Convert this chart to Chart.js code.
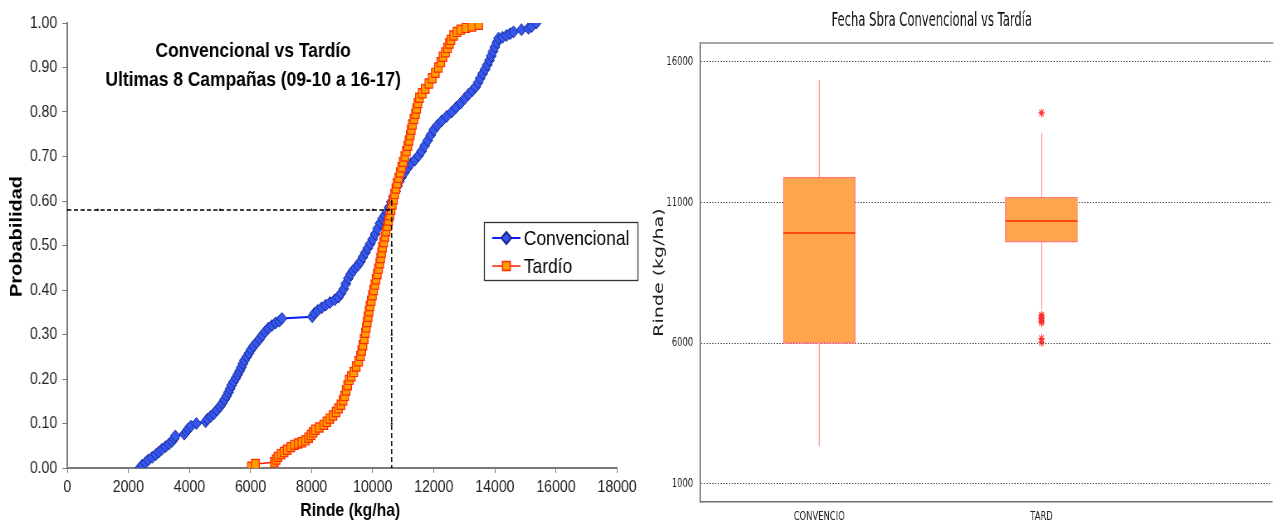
<!DOCTYPE html>
<html><head><meta charset="utf-8">
<script src="https://cdn.jsdelivr.net/npm/chart.js@4/dist/chart.umd.min.js"></script>
<style>
html,body{margin:0;padding:0;background:#fff;width:1276px;height:523px;overflow:hidden;position:relative}
canvas{position:absolute;top:0}
</style></head><body>
<canvas id="c1" width="771" height="523" style="left:0;width:640px;height:523px"></canvas>
<canvas id="c2" width="909" height="523" style="left:640px;width:636px;height:523px"></canvas>
<script>
// ---------- LEFT CHART DATA (cumulative probability vs yield) ----------
const leftTitle = ['Convencional vs Tardío', 'Ultimas 8 Campañas (09-10 a 16-17)'];
const leftXTitle = 'Rinde (kg/ha)';
const leftYTitle = 'Probabilidad';
const seriesNames = ['Convencional', 'Tardío'];
const rindeTicks = [0, 2000, 4000, 6000, 8000, 10000, 12000, 14000, 16000, 18000];
const probTicks = [0, 0.1, 0.2, 0.3, 0.4, 0.5, 0.6, 0.7, 0.8, 0.9, 1.0];

const convRinde = [2380,2450,2560,2650,2780,2900,3000,3100,3220,3330,3430,3500,3540,3830,3900,3960,4050,4230,4530,4590,4700,4800,4900,5000,5080,5150,5220,5280,5330,5380,5450,5520,5580,5640,5700,5750,5800,5880,5950,6020,6100,6200,6300,6380,6480,6580,6700,6820,6940,7030,8020,8100,8200,8330,8460,8600,8760,8880,8960,9050,9120,9200,9280,9360,9440,9520,9600,9680,9760,9840,9920,10000,10080,10160,10240,10320,10400,10470,10540,10610,10680,10750,10810,10870,10950,11040,11140,11250,11380,11500,11600,11700,11800,11900,12000,12120,12260,12420,12590,12730,12880,13010,13140,13260,13370,13450,13520,13600,13680,13750,13820,13880,13940,14000,14060,14120,14250,14380,14500,14610,14870,15100,15200,15360];
const convProb = [0.000,0.006,0.012,0.018,0.024,0.030,0.036,0.042,0.048,0.054,0.060,0.066,0.072,0.076,0.082,0.088,0.094,0.100,0.104,0.110,0.116,0.122,0.130,0.138,0.146,0.154,0.162,0.170,0.178,0.186,0.194,0.202,0.210,0.218,0.226,0.234,0.242,0.250,0.258,0.266,0.274,0.282,0.290,0.298,0.306,0.314,0.320,0.326,0.330,0.336,0.340,0.348,0.354,0.360,0.366,0.372,0.378,0.384,0.392,0.402,0.414,0.426,0.436,0.444,0.450,0.456,0.464,0.474,0.484,0.494,0.504,0.514,0.526,0.538,0.550,0.560,0.568,0.576,0.586,0.598,0.610,0.622,0.634,0.644,0.654,0.664,0.674,0.684,0.692,0.702,0.712,0.724,0.736,0.748,0.760,0.770,0.780,0.790,0.800,0.810,0.820,0.830,0.840,0.848,0.856,0.866,0.876,0.886,0.896,0.906,0.916,0.926,0.936,0.946,0.956,0.966,0.968,0.972,0.976,0.980,0.985,0.988,0.992,1.000];

const tardRinde = [6030,6160,6780,6840,6900,7000,7100,7200,7320,7440,7560,7680,7800,7900,7980,8050,8120,8250,8400,8500,8600,8700,8800,8880,8960,9030,9080,9130,9180,9230,9300,9380,9460,9540,9600,9640,9680,9720,9760,9790,9820,9850,9880,9910,9950,9990,10030,10070,10110,10150,10190,10230,10260,10290,10320,10360,10400,10440,10480,10520,10560,10600,10640,10680,10720,10760,10800,10850,10900,10950,11000,11050,11100,11150,11190,11230,11260,11300,11350,11400,11440,11480,11530,11620,11720,11840,11950,12050,12150,12230,12300,12380,12450,12510,12560,12650,12760,12880,13050,13250,13470];
const tardProb = [0.003,0.009,0.013,0.019,0.025,0.031,0.036,0.041,0.047,0.052,0.055,0.058,0.062,0.068,0.074,0.080,0.086,0.091,0.097,0.104,0.111,0.118,0.126,0.134,0.142,0.152,0.162,0.174,0.186,0.198,0.206,0.216,0.228,0.240,0.252,0.264,0.276,0.290,0.304,0.316,0.328,0.340,0.352,0.364,0.376,0.388,0.400,0.412,0.424,0.436,0.448,0.460,0.472,0.484,0.496,0.508,0.520,0.532,0.544,0.556,0.568,0.580,0.592,0.604,0.616,0.628,0.640,0.652,0.664,0.676,0.688,0.700,0.712,0.724,0.736,0.748,0.760,0.772,0.784,0.796,0.808,0.820,0.832,0.842,0.852,0.864,0.876,0.888,0.900,0.912,0.924,0.934,0.944,0.954,0.962,0.972,0.980,0.985,0.989,0.992,0.996];

const guideHRinde = [0, 1000, 3000, 5000, 8000, 10000, 10530];
const guideHProb = [0.58, 0.58, 0.58, 0.58, 0.58, 0.58, 0.58];
const guideVRinde = [10620, 10620, 10620, 10620, 10620, 10620, 10620];
const guideVProb = [0.60, 0.50, 0.40, 0.30, 0.20, 0.10, 0.00];

// ---------- RIGHT CHART DATA (box plot) ----------
const boxTitle = 'Fecha Sbra Convencional vs Tardía';
const boxYTitle = 'Rinde (kg/ha)';
const boxCategories = ['CONVENCIO', 'TARD'];
const boxMin = [2340, 7210];
const boxQ1 = [6000, 9600];
const boxMedian = [9920, 10350];
const boxQ3 = [11910, 11200];
const boxMax = [15360, 13480];
const boxTicks = [1000, 6000, 11000, 16000];
const outlierCategory = [2, 2, 2, 2, 2, 2, 2, 2];
const outlierRinde = [14190, 7000, 6930, 6870, 6800, 6740, 6170, 6030];

// ---------- helpers ----------
const FL = '"Liberation Sans", Arial, Helvetica, sans-serif';
const FR = '"DejaVu Sans", Verdana, sans-serif';
const pts = (xs, ys) => xs.map((x, i) => ({x: x, y: ys[i]}));

const SER_STYLE = [
  {line: '#0a1cff', fill: '#3557ee', border: '#1b2a96', style: 'rectRot', r: 6, bw: 1},
  {line: '#ff1a00', fill: '#ff9c00', border: '#ff2a00', style: 'rect', r: 6.5, bw: 1.2}
];

const leftDecor = {
  id: 'leftDecor',
  afterDraw(chart) {
    const ctx = chart.ctx;
    ctx.save();
    ctx.fillStyle = '#000';
    ctx.textAlign = 'center';
    ctx.textBaseline = 'middle';
    ctx.font = 'bold 21px ' + FL;
    ctx.fillText(leftTitle[0], 305, 51);
    ctx.fillText(leftTitle[1], 305, 80);
    // axis titles
    ctx.font = 'bold 19px ' + FL;
    ctx.fillText(leftXTitle, 422, 511);
    ctx.save();
    ctx.translate(20.5, 236.5);
    ctx.rotate(-Math.PI / 2);
    ctx.font = 'bold 20px ' + FL;
    ctx.fillText(leftYTitle, 0, 0);
    ctx.restore();
    // legend
    ctx.fillStyle = '#fff';
    ctx.fillRect(583, 222, 186, 59);
    ctx.strokeStyle = '#333';
    ctx.lineWidth = 1.3;
    ctx.strokeRect(583.5, 222.5, 185, 58);
    const rows = [238, 266];
    seriesNames.forEach((name, i) => {
      const st = SER_STYLE[i];
      const y = rows[i];
      ctx.strokeStyle = st.line;
      ctx.lineWidth = i === 0 ? 2 : 1.5;
      ctx.beginPath(); ctx.moveTo(593, y); ctx.lineTo(627, y); ctx.stroke();
      ctx.fillStyle = st.fill; ctx.strokeStyle = st.border;
      Chart.helpers.drawPoint(ctx, {pointStyle: st.style, radius: st.r, rotation: 0, borderWidth: st.bw}, 610, y);
      ctx.fillStyle = '#000';
      ctx.textAlign = 'left';
      ctx.font = '21px ' + FL;
      ctx.fillText(name, 631, y + 1);
    });
    ctx.restore();
  }
};

new Chart(document.getElementById('c1'), {
  type: 'scatter',
  data: {
    datasets: [
      {label: 'guideH', data: pts(guideHRinde, guideHProb), showLine: true, borderColor: '#000', borderWidth: 1.5, borderDash: [5, 3],
       pointStyle: 'triangle', pointRadius: 1.8, pointBackgroundColor: '#000', pointBorderColor: '#000', pointBorderWidth: 0},
      {label: 'guideV', data: pts(guideVRinde, guideVProb), showLine: true, borderColor: '#000', borderWidth: 1.5, borderDash: [5, 3],
       pointStyle: 'triangle', pointRadius: 1.8, pointBackgroundColor: '#000', pointBorderColor: '#000', pointBorderWidth: 0},
      {label: seriesNames[1], data: pts(tardRinde, tardProb), showLine: true, borderColor: SER_STYLE[1].line, borderWidth: 1.5,
       pointStyle: 'rect', pointRadius: SER_STYLE[1].r, pointBackgroundColor: SER_STYLE[1].fill, pointBorderColor: SER_STYLE[1].border, pointBorderWidth: SER_STYLE[1].bw},
      {label: seriesNames[0], data: pts(convRinde, convProb), showLine: true, borderColor: SER_STYLE[0].line, borderWidth: 2,
       pointStyle: 'rectRot', pointRadius: SER_STYLE[0].r, pointBackgroundColor: SER_STYLE[0].fill, pointBorderColor: SER_STYLE[0].border, pointBorderWidth: SER_STYLE[0].bw}
    ]
  },
  options: {
    responsive: false, animation: false, devicePixelRatio: 1,
    layout: {padding: {top: 23, right: 25, left: 0, bottom: 0}},
    plugins: {legend: {display: false}, tooltip: {enabled: false}, title: {display: false}},
    scales: {
      x: {
        type: 'linear', min: 0, max: 18000,
        afterBuildTicks: s => { s.ticks = rindeTicks.map(v => ({value: v})); },
        afterFit: s => { s.height = 55; },
        ticks: {callback: v => String(v), font: {family: FL, size: 17}, color: '#222', padding: 4, maxRotation: 0, autoSkip: false},
        grid: {drawOnChartArea: false, drawTicks: true, tickLength: 5, color: '#7a7a7a', lineWidth: 1},
        border: {display: true, color: '#7a7a7a', width: 2}
      },
      y: {
        type: 'linear', min: 0, max: 1,
        afterBuildTicks: s => { s.ticks = probTicks.map(v => ({value: v})); },
        afterFit: s => { s.width = 81; },
        ticks: {callback: v => Number(v).toFixed(2), font: {family: FL, size: 17}, color: '#222', padding: 6, autoSkip: false},
        grid: {drawOnChartArea: false, drawTicks: true, tickLength: 6, color: '#7a7a7a', lineWidth: 1},
        border: {display: true, color: '#7a7a7a', width: 2}
      }
    }
  },
  plugins: [leftDecor]
});

// ---------- RIGHT CHART ----------
const rightDecor = {
  id: 'rightDecor',
  afterDatasetsDraw(chart) {
    const {ctx, scales: {x, y}} = chart;
    const meta = chart.getDatasetMeta(0);
    ctx.save();
    boxCategories.forEach((c, i) => {
      const cx = x.getPixelForValue(i + 1);
      const half = meta.data[i].width / 2;
      ctx.strokeStyle = '#ff9a9a';
      ctx.lineWidth = 1.5;
      ctx.beginPath();
      ctx.moveTo(cx, y.getPixelForValue(boxQ3[i])); ctx.lineTo(cx, y.getPixelForValue(boxMax[i]));
      ctx.moveTo(cx, y.getPixelForValue(boxQ1[i])); ctx.lineTo(cx, y.getPixelForValue(boxMin[i]));
      ctx.stroke();
      ctx.strokeStyle = '#ff4a12';
      ctx.lineWidth = 2;
      const ym = y.getPixelForValue(boxMedian[i]);
      ctx.beginPath(); ctx.moveTo(cx - half, ym); ctx.lineTo(cx + half, ym); ctx.stroke();
    });
    ctx.restore();
  },
  afterDraw(chart) {
    const {ctx, chartArea} = chart;
    ctx.save();
    ctx.strokeStyle = '#8a8a8a';
    ctx.lineWidth = 1.5;
    ctx.beginPath(); ctx.moveTo(chartArea.left, chartArea.top); ctx.lineTo(chartArea.right + 2, chartArea.top); ctx.stroke();
    ctx.fillStyle = '#111';
    ctx.textAlign = 'center';
    ctx.textBaseline = 'middle';
    ctx.translate(417, 21);
    ctx.scale(0.87, 1);
    ctx.font = '19px ' + FR;
    ctx.fillText(boxTitle, 0, 0);
    ctx.restore();
  }
};

new Chart(document.getElementById('c2'), {
  type: 'bar',
  data: {
    datasets: [
      {type: 'bar', label: 'box', data: boxCategories.map((c, i) => ({x: i + 1, y: [boxQ1[i], boxQ3[i]]})),
       backgroundColor: '#ffa64d', borderColor: '#ff7a7a', borderWidth: 1.5, borderSkipped: false, barThickness: 103, grouped: false},
      {type: 'scatter', label: 'outliers', data: pts(outlierCategory, outlierRinde),
       pointStyle: 'star', pointRadius: 4.5, borderColor: '#ff2a2a', backgroundColor: '#ff2a2a', borderWidth: 1.2}
    ]
  },
  options: {
    responsive: false, animation: false, devicePixelRatio: 1,
    layout: {padding: {top: 43, right: 0, left: 0, bottom: 0}},
    plugins: {legend: {display: false}, tooltip: {enabled: false}, title: {display: false}},
    scales: {
      x: {
        type: 'linear', min: 0.4643, max: 3.037, offset: false,
        afterBuildTicks: s => { s.ticks = boxCategories.map((c, i) => ({value: i + 1})); },
        afterFit: s => { s.height = 21; },
        ticks: {callback: v => boxCategories[Math.round(v) - 1] || '', font: {family: FR, size: 12}, color: '#222', padding: 8, maxRotation: 0, autoSkip: false},
        grid: {display: false, drawTicks: false},
        border: {display: true, color: '#6e6e6e', width: 1.5}
      },
      y: {
        type: 'linear', min: 360, max: 16675,
        afterBuildTicks: s => { s.ticks = boxTicks.map(v => ({value: v})); },
        afterFit: s => { s.width = 86; },
        ticks: {callback: v => String(v), font: {family: FR, size: 12}, color: '#222', padding: 10, autoSkip: false},
        grid: {display: true, drawTicks: false, drawOnChartArea: true, color: '#555', lineWidth: 1},
        border: {display: true, color: '#8a8a8a', width: 2, dash: [2, 2]},
        title: {display: true, text: boxYTitle, font: {family: FR, size: 19}, color: '#222', padding: {top: 17, bottom: 0}}
      }
    }
  },
  plugins: [rightDecor]
});
</script>
</body></html>
